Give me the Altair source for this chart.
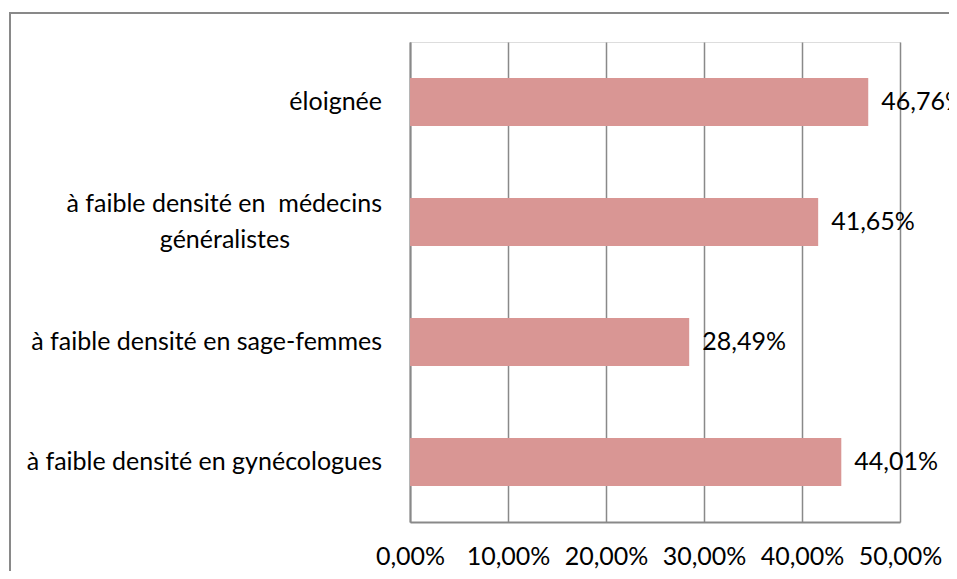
import altair as alt
import pandas as pd

# Data
categories = [
    "éloignée",
    "à faible densité en\u00a0 médecins|généralistes",
    "à faible densité en sage-femmes",
    "à faible densité en gynécologues",
]
values = [0.4676, 0.4165, 0.2849, 0.4401]
x_ticks = [0.0, 0.1, 0.2, 0.3, 0.4, 0.5]

df = pd.DataFrame({"cat": categories, "v": values})

FONT = "Lato"
FS = 25
GRAY = "#898989"

y_enc = alt.Y(
    "cat:N",
    sort=categories,
    scale=alt.Scale(paddingInner=0.6, paddingOuter=0.3),
    axis=alt.Axis(labels=False, ticks=False, title=None, grid=False,
                  domainColor=GRAY, domainWidth=2),
)
x_enc = alt.X(
    "v:Q",
    scale=alt.Scale(domain=[0, 0.5], nice=False),
    axis=alt.Axis(
        values=x_ticks,
        labelExpr="replace(format(datum.value, '.2%'), '.', ',')",
        ticks=False, grid=True, gridColor=GRAY, gridWidth=1.5,
        domainColor=GRAY, domainWidth=2,
        labelFont=FONT, labelFontSize=FS, labelColor="black",
        labelPadding=22, labelOverlap=False, labelFlush=False, title=None,
    ),
)

border = alt.Chart(alt.Data(values=[{"a": 1}])).mark_rect(
    filled=False, stroke=GRAY, strokeWidth=2
).encode(
    x=alt.value(-400), x2=alt.value(700), y=alt.value(-29), y2=alt.value(700)
)

bars = alt.Chart(df).mark_bar(color="#D99694").encode(x=x_enc, y=y_enc)

value_labels = alt.Chart(df).transform_calculate(
    t="replace(format(datum.v, '.2%'), '.', ',')"
).mark_text(
    align="left", baseline="middle", dx=13, font=FONT, fontSize=FS, color="black"
).encode(
    x="v:Q", y=alt.Y("cat:N", sort=categories), text="t:N"
)

cat_labels = alt.Chart(df).transform_calculate(
    lines="split(datum.cat, '|')",
    idx="sequence(0, length(split(datum.cat, '|')))",
    n="length(split(datum.cat, '|'))",
).transform_flatten(["lines", "idx"]).mark_text(
    align="right", baseline="middle", font=FONT, fontSize=FS, color="black",
    dy=alt.expr("(datum.idx - (datum.n - 1) / 2) * 36"),
    dx=alt.expr("datum.idx > 0 ? -92 : 0"),
).encode(
    x=alt.value(-28), y=alt.Y("cat:N", sort=categories), text="lines:N"
)

chart = alt.layer(border, bars, value_labels, cat_labels).properties(
    width=490,
    height=480,
    autosize=alt.AutoSizeParams(type="none"),
    padding={"left": 402, "top": 34, "right": 49, "bottom": 49},
).configure_view(stroke=None).configure(background="white")

chart.save("out.html", embed_options={"renderer": "svg", "actions": False})
